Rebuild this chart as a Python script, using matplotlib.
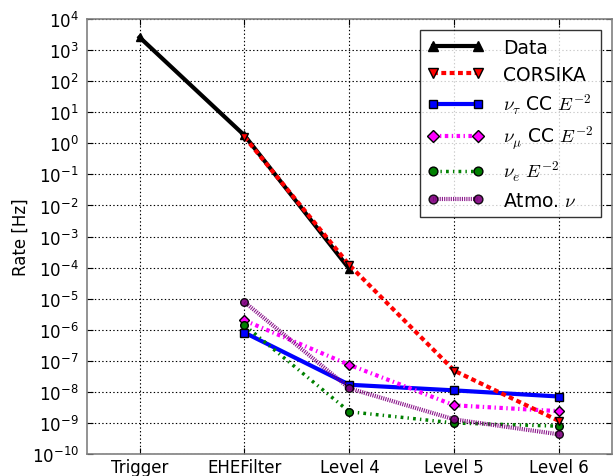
import matplotlib
matplotlib.use("Agg")
import matplotlib.pyplot as plt
from matplotlib.ticker import FixedLocator, NullLocator

plt.rcParams['mathtext.fontset'] = 'cm'
plt.rcParams['font.family'] = ['DejaVu Sans']
plt.rcParams['lines.scale_dashes'] = False

levels = ["Trigger", "EHEFilter", "Level 4", "Level 5", "Level 6"]

data_rate = [2.6e3, 1.8, 9.0e-5]
corsika_rate = [1.6, 1.2e-4, 4.8e-8, 1.15e-9]
nutau_rate = [8.1e-7, 1.7e-8, 1.12e-8, 7.1e-9]
numu_rate = [2.0e-6, 7.4e-8, 3.7e-9, 2.4e-9]
nue_rate = [1.4e-6, 2.3e-9, 1.0e-9, 7.9e-10]
atmo_rate = [7.8e-6, 1.3e-8, 1.3e-9, 4.3e-10]

fig = plt.figure(figsize=(6.13, 4.77), dpi=100)
ax = fig.add_axes([0.142, 0.046, 0.856, 0.912])

x_all = list(range(len(levels)))
x_data = x_all[:len(data_rate)]
x_rest = x_all[1:]

ax.plot(x_data, data_rate, color='black', ls='-', lw=3, marker='^', ms=6,
        mfc='black', mec='black', label='Data', zorder=3)
ax.plot(x_rest, corsika_rate, color='red', lw=3, marker='v', ms=6,
        mfc='red', mec='black', label='CORSIKA', zorder=4,
        dashes=(3.5, 2.5))
ax.plot(x_rest, nutau_rate, color='blue', ls='-', lw=3, marker='s', ms=5.5,
        mfc='blue', mec='black', label=r'$\nu_\tau$ CC $E^{-2}$', zorder=3)
ax.plot(x_rest, numu_rate, color='magenta', lw=3, marker='D', ms=5.5,
        mfc='magenta', mec='black', label=r'$\nu_\mu$ CC $E^{-2}$', zorder=3,
        dashes=(2.5, 2.5, 1, 2.5))
ax.plot(x_rest, nue_rate, color='green', lw=2.5, marker='o', ms=5.5,
        mfc='green', mec='black', label=r'$\nu_e$ $E^{-2}$', zorder=3,
        dashes=(2, 3, 1, 3))
ax.plot(x_rest, atmo_rate, color='purple', lw=3, marker='o', ms=5.5,
        mfc='purple', mec='black', label=r'Atmo. $\nu$', zorder=3,
        dashes=(0.8, 0.8), alpha=0.9)

ax.set_yscale('log')
ax.set_ylim(1e-10, 1e4)
ax.set_xlim(-0.5, len(levels) - 0.5)
ax.yaxis.set_major_locator(FixedLocator([10.0**k for k in range(-10, 5)]))
ax.yaxis.set_minor_locator(NullLocator())
ax.set_yticklabels([r'$\mathdefault{10^{%d}}$' % k for k in range(-10, 5)])
ax.set_xticks(x_all)
ax.set_xticklabels(levels)
ax.tick_params(axis='both', which='major', direction='in', length=4,
               labelsize=12, top=True, right=True)
ax.tick_params(axis='x', pad=3)
ax.tick_params(axis='y', pad=6)
ax.grid(True, color='black', ls=':', lw=0.8)
for s in ax.spines.values():
    s.set_color('0.5')
    s.set_linewidth(1.2)
ax.set_ylabel('Rate [Hz]', fontsize=12, labelpad=1)

leg = ax.legend(loc='upper right', fontsize=13.5, numpoints=2, fancybox=False,
                handlelength=3.0, handletextpad=1.0, labelspacing=0.42,
                borderaxespad=0.6, markerscale=1.15)
leg.get_frame().set_edgecolor('black')
leg.get_frame().set_linewidth(1.0)

fig.savefig('out.png', dpi=100)
